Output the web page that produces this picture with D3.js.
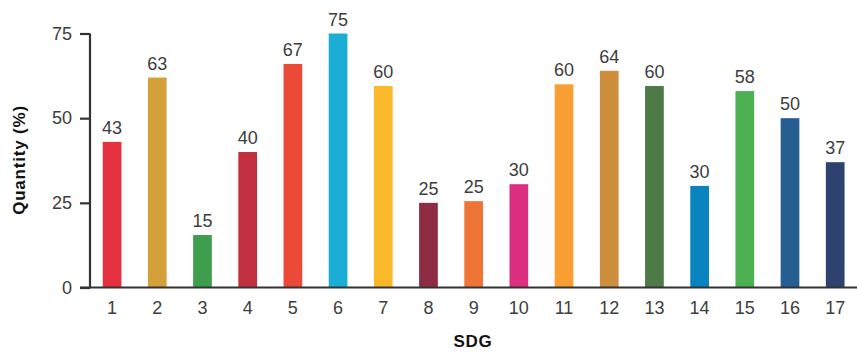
<!DOCTYPE html>
<html><head><meta charset="utf-8">
<script src="https://cdn.jsdelivr.net/npm/d3@7"></script>
<style>body{margin:0;background:#fff}svg{display:block}</style>
</head><body>
<svg id="c" width="857" height="352"></svg>
<script>
const categories = ["1","2","3","4","5","6","7","8","9","10","11","12","13","14","15","16","17"];
const values = [43, 62, 15.5, 40, 66, 75, 59.5, 25, 25.5, 30.5, 60, 64, 59.5, 30, 58, 50, 37];
const valueLabels = ["43","63","15","40","67","75","60","25","25","30","60","64","60","30","58","50","37"];
const colors = ["#E5303F","#D4A03A","#3E9E4E","#C23040","#EC4A38","#1AAED6","#FBB82A","#8E2C45","#EE7535","#DC2F82","#F89E32","#CD8E3E","#4E7A48","#0A84BF","#4DB152","#255F92","#2E4270"];
const yTicks = [0, 25, 50, 75];

const svg = d3.select("#c");
const font = "Liberation Sans, Arial, sans-serif";
const textCol = "#3d3d3d";

const x = d3.scaleBand().domain(categories).range([89.5, 857.8]).paddingInner(0.586).paddingOuter(0.293);
const y = d3.scaleLinear().domain([0, 75]).range([287.5, 33.5]);

// bars
svg.append("g").selectAll("rect").data(categories).join("rect")
  .attr("x", d => x(d))
  .attr("width", x.bandwidth())
  .attr("y", (d,i) => y(values[i]))
  .attr("height", (d,i) => y(0) - y(values[i]))
  .attr("fill", (d,i) => colors[i]);

// value labels
svg.append("g").selectAll("text").data(categories).join("text")
  .attr("x", d => x(d) + x.bandwidth()/2)
  .attr("y", (d,i) => y(values[i]) - 8)
  .attr("text-anchor", "middle")
  .attr("font-family", font).attr("font-size", 18).attr("fill", textCol)
  .text((d,i) => valueLabels[i]);

// y axis
const yAxis = svg.append("g").attr("transform", "translate(90,0)")
  .call(d3.axisLeft(y).tickValues(yTicks).tickSize(10).tickPadding(8));
yAxis.select(".domain").attr("stroke", "#333").attr("stroke-width", 2.2).attr("d", `M0,${y(75)}V${y(0)}`);
yAxis.selectAll(".tick line").attr("stroke", "#333").attr("stroke-width", 2.2);
yAxis.selectAll(".tick text").attr("font-family", font).attr("font-size", 18).attr("fill", textCol);

// x axis
const xAxis = svg.append("g").attr("transform", `translate(0,${y(0)})`)
  .call(d3.axisBottom(x).tickSize(0).tickPadding(14));
xAxis.select(".domain").attr("stroke", "#333").attr("stroke-width", 2.2).attr("d", "M80,0H857");
xAxis.selectAll(".tick text").attr("font-family", font).attr("font-size", 18).attr("fill", textCol);

// titles
svg.append("text").attr("transform", "translate(25,160) rotate(-90)")
  .attr("text-anchor", "middle").attr("font-family", font).attr("font-weight", "bold")
  .attr("font-size", 17).attr("letter-spacing", 0.8).attr("fill", "#111").text("Quantity (%)");
svg.append("text").attr("x", 473).attr("y", 347)
  .attr("text-anchor", "middle").attr("font-family", font).attr("font-weight", "bold")
  .attr("font-size", 17).attr("letter-spacing", 0.8).attr("fill", "#111").text("SDG");
</script>
</body></html>
